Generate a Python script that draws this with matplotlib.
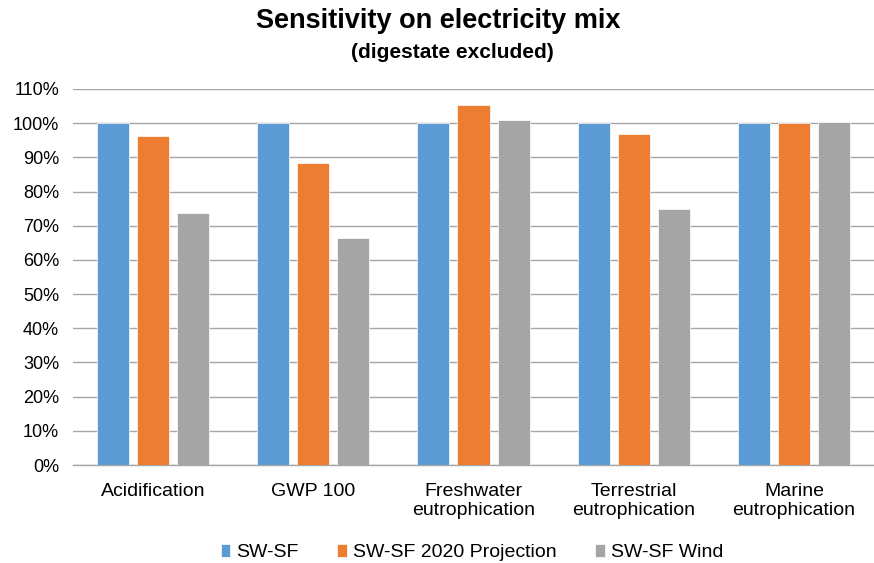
import numpy as np
import matplotlib
matplotlib.use("Agg")
import matplotlib.pyplot as plt
from matplotlib.ticker import PercentFormatter

plt.rcParams['font.family'] = ['Liberation Sans', 'DejaVu Sans']

categories = ["Acidification", "GWP 100", "Freshwater\neutrophication",
              "Terrestrial\neutrophication", "Marine\neutrophication"]
series_names = ["SW-SF", "SW-SF 2020 Projection", "SW-SF Wind"]
sw_sf = [100, 100, 100, 100, 100]
sw_sf_2020 = [96.3, 88.4, 105.3, 96.8, 100.0]
sw_sf_wind = [73.8, 66.3, 101.0, 75.0, 100.3]
colors = ["#5B9BD5", "#ED7D31", "#A5A5A5"]

fig = plt.figure(figsize=(8.74, 5.63), dpi=100)
ax = fig.add_axes([0.0835, 0.174, 0.9165, 0.668])

x = np.arange(len(categories))
width = 0.2
offset = 0.25
for i, (vals, name) in enumerate(zip([sw_sf, sw_sf_2020, sw_sf_wind], series_names)):
    ax.bar(x + (i - 1) * offset, vals, width, color=colors[i], label=name,
           zorder=3, edgecolor="white", linewidth=0.5)

ax.set_xlim(-0.5, len(categories) - 0.5)
ax.set_ylim(0, 110)
ax.set_yticks(np.arange(0, 111, 10))
ax.yaxis.set_major_formatter(PercentFormatter(decimals=0))
ax.grid(axis="y", color="#A6A6A6", linewidth=1, zorder=0)
for s in ["top", "right", "left"]:
    ax.spines[s].set_visible(False)
ax.spines["bottom"].set_color("#A6A6A6")
ax.spines["bottom"].set_linewidth(1)
ax.set_xticks(x)
ax.set_xticklabels(categories, fontsize=14, color="#000000", linespacing=1.15)
ax.tick_params(axis="x", length=0, pad=13)
ax.tick_params(axis="y", length=0, pad=10, labelsize=13)

fig.text(0.501, 0.963, "Sensitivity on electricity mix", ha="center", va="center",
         fontsize=19.5, fontweight="bold")
fig.text(0.518, 0.906, "(digestate excluded)", ha="center", va="center",
         fontsize=15, fontweight="bold")

fig.legend(loc="center", bbox_to_anchor=(0.54, 0.018), ncol=3, frameon=False,
           fontsize=14, handlelength=0.5, handleheight=0.6, handletextpad=0.3,
           columnspacing=2.0)

fig.savefig("out.png", dpi=100)
